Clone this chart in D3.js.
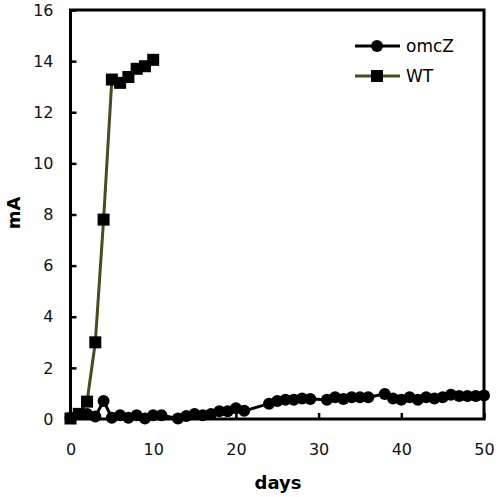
<!DOCTYPE html>
<html><head><meta charset="utf-8">
<script src="https://cdn.jsdelivr.net/npm/d3@7"></script>
<style>body{margin:0;background:#fff}svg{display:block}</style>
</head><body>
<script>
const omczDays = [0,1,2,3,4,5,6,7,8,9,10,11,13,14,15,16,17,18,19,20,21,24,25,26,27,28,29,31,32,33,34,35,36,38,39,40,41,42,43,44,45,46,47,48,49,50];
const omczMA   = [0.05,0.2,0.2,0.1,0.7,0.05,0.15,0.05,0.15,0.02,0.15,0.15,0.02,0.12,0.2,0.15,0.2,0.3,0.3,0.42,0.32,0.6,0.7,0.75,0.75,0.8,0.78,0.75,0.85,0.78,0.85,0.85,0.85,0.98,0.8,0.75,0.85,0.75,0.85,0.8,0.85,0.95,0.9,0.9,0.9,0.92];
const wtDays = [0,1,2,3,4,5,6,7,8,9,10];
const wtMA   = [0.02,0.2,0.68,3.0,7.8,13.28,13.15,13.38,13.7,13.8,14.05];
const xTicks = [0,10,20,30,40,50];
const yTicks = [0,2,4,6,8,10,12,14,16];
const seriesNames = ["omcZ","WT"];

const W = 498, H = 497;
const m = {left:70.5, right:484, top:10, bottom:419};
const svg = d3.select("body").append("svg").attr("width",W).attr("height",H);
const x = d3.scaleLinear().domain([0,50]).range([m.left,m.right]);
const y = d3.scaleLinear().domain([0,16]).range([m.bottom,m.top]);
const font = "DejaVu Sans, Verdana, sans-serif";

// axes (ticks inward)
const xAxis = svg.append("g").attr("transform",`translate(0,${m.bottom})`)
  .call(d3.axisBottom(x).tickValues(xTicks).tickSize(-6).tickPadding(25).tickFormat(d3.format("d")));
const yAxis = svg.append("g").attr("transform",`translate(${m.left},0)`)
  .call(d3.axisLeft(y).tickValues(yTicks).tickSize(-6).tickPadding(17).tickFormat(d3.format("d")));
[xAxis,yAxis].forEach(g=>{
  g.select(".domain").remove();
  g.selectAll(".tick line").attr("stroke","#000").attr("stroke-width",2.5);
  g.selectAll(".tick text").attr("font-family",font).attr("font-size",16).attr("fill","#111");
});

// frame
svg.append("rect").attr("x",m.left).attr("y",m.top).attr("width",m.right-m.left).attr("height",m.bottom-m.top)
  .attr("fill","none").attr("stroke","#000").attr("stroke-width",3);

const line = d3.line().x(d=>x(d[0])).y(d=>y(d[1]));
const omcz = omczDays.map((d,i)=>[d,omczMA[i]]);
const wt = wtDays.map((d,i)=>[d,wtMA[i]]);

// WT
svg.append("path").datum(wt).attr("d",line).attr("fill","none").attr("stroke","#4b4b1e").attr("stroke-width",3);
svg.selectAll(".wt").data(wt).enter().append("rect")
  .attr("x",d=>x(d[0])-6).attr("y",d=>y(d[1])-6).attr("width",12).attr("height",12).attr("fill","#000");
// omcZ
svg.append("path").datum(omcz).attr("d",line).attr("fill","none").attr("stroke","#000").attr("stroke-width",3);
svg.selectAll(".oz").data(omcz).enter().append("circle")
  .attr("cx",d=>x(d[0])).attr("cy",d=>y(d[1])).attr("r",6).attr("fill","#000");

// axis titles
svg.append("text").attr("x",278).attr("y",489).attr("text-anchor","middle")
  .attr("font-family",font).attr("font-weight","bold").attr("font-size",18).text("days");
svg.append("text").attr("transform","translate(20,213) rotate(-90)").attr("text-anchor","middle")
  .attr("font-family",font).attr("font-weight","bold").attr("font-size",18).text("mA");

// legend
const leg = svg.append("g");
const ly = [46,76];
leg.append("line").attr("x1",355).attr("x2",400).attr("y1",ly[0]).attr("y2",ly[0]).attr("stroke","#000").attr("stroke-width",3);
leg.append("circle").attr("cx",377).attr("cy",ly[0]).attr("r",6).attr("fill","#000");
leg.append("line").attr("x1",355).attr("x2",400).attr("y1",ly[1]).attr("y2",ly[1]).attr("stroke","#4b4b1e").attr("stroke-width",3);
leg.append("rect").attr("x",377-6).attr("y",ly[1]-6).attr("width",12).attr("height",12).attr("fill","#000");
seriesNames.forEach((n,i)=>{
  leg.append("text").attr("x",406).attr("y",ly[i]+6).attr("font-family",font).attr("font-size",17).text(n);
});
</script>
</body></html>
